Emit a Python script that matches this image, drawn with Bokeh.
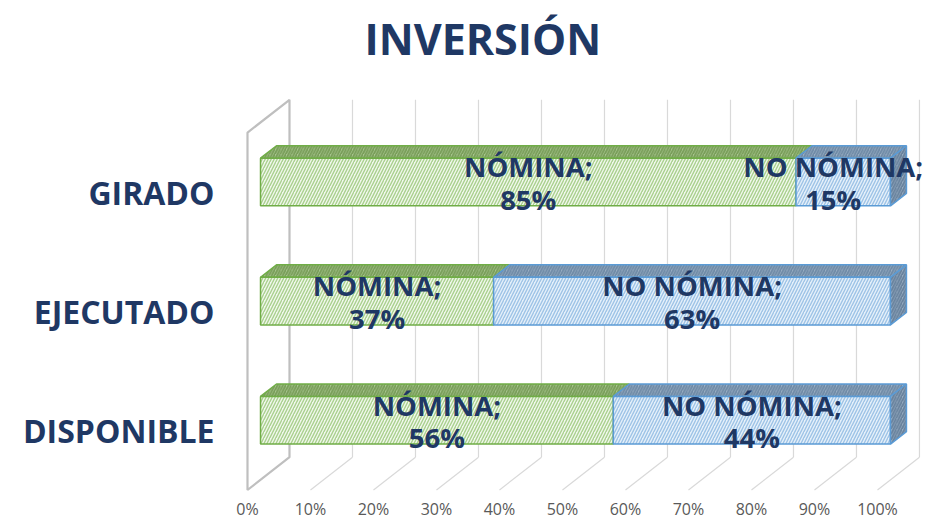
from bokeh.plotting import figure
from bokeh.models import Range1d, FixedTicker, Title
from bokeh.embed import file_html
from bokeh.resources import INLINE
from bokeh.core.properties import value

# ---- data ----
categories = ["DISPONIBLE", "EJECUTADO", "GIRADO"]
nomina = [56, 37, 85]
no_nomina = [44, 63, 15]
series_names = ["NÓMINA", "NO NÓMINA"]
x_ticks = [0, 10, 20, 30, 40, 50, 60, 70, 80, 90, 100]
x_tick_labels = ["0%", "10%", "20%", "30%", "40%", "50%", "60%", "70%", "80%", "90%", "100%"]
title_text = "INVERSIÓN"

# ---- 3D look parameters (style) ----
DEPTH_X = 6.667   # full depth shift, in % units
DEPTH_Y = 0.275   # full depth shift, in category units
D1, D2 = 0.31, 0.69  # bar depth span
HALF = 0.2        # half bar height (category units)
NAVY = "#1F3864"
FONT = "Open Sans"


def proj(x, v, d):
    return x + d * DEPTH_X, v + d * DEPTH_Y


p = figure(width=928, height=522, output_backend="svg", toolbar_location=None,
           x_range=Range1d(-3.333, 108.1), y_range=Range1d(-0.521, 2.996),
           min_border_left=226, min_border_right=0, min_border_top=72, min_border_bottom=28,
           outline_line_color=None, background_fill_color="white", border_fill_color="white")
p.xgrid.visible = False
p.ygrid.visible = False

p.add_layout(Title(text=title_text, align="left", offset=138, text_font=FONT, text_font_size="43px",
                   text_font_style="bold", text_color=NAVY, standoff=12), "above")

# ---- walls and gridlines ----
n = len(categories)
vlo, vhi = -0.5, n - 0.5
gx, gy = [], []
for tk in x_ticks[1:]:
    a = proj(tk, vlo, 1); b = proj(tk, vhi, 1)
    gx.append([a[0], b[0]]); gy.append([a[1], b[1]])
p.multi_line(gx, gy, line_color="#D9D9D9", line_width=1.2)
fx, fy = [], []
for tk in x_ticks[1:]:
    a = proj(tk, vlo, 0); b = proj(tk, vlo, 1)
    fx.append([a[0], b[0]]); fy.append([a[1], b[1]])
p.multi_line(fx, fy, line_color="#D9D9D9", line_width=1.2)
wall = [proj(0, vlo, 0), proj(0, vhi, 0), proj(0, vhi, 1), proj(0, vlo, 1)]
p.patch([w[0] for w in wall] + [wall[0][0]], [w[1] for w in wall] + [wall[0][1]],
        fill_color=None, line_color="#BFBFBF", line_width=2.2)

# ---- bars ----
styles = [
    dict(front="#F1F8EC", front_h="#A9D08E", top="#A8C690", top_h="#789D58", line="#70AD47"),
    dict(front="#E6F0FA", front_h="#9DC3E6", top="#9BAFC4", top_h="#6E8AA6", line="#5B9BD5"),
]
for i, cat in enumerate(categories):
    vals = [nomina[i], no_nomina[i]]
    start = 0
    for s_i, val in enumerate(vals):
        end = start + val
        st = styles[s_i]
        fr = [proj(start, i - HALF, D1), proj(end, i - HALF, D1), proj(end, i + HALF, D1), proj(start, i + HALF, D1)]
        tp = [proj(start, i + HALF, D1), proj(end, i + HALF, D1), proj(end, i + HALF, D2), proj(start, i + HALF, D2)]
        p.patch([q[0] for q in tp], [q[1] for q in tp], fill_color=st["top"], line_color=st["line"],
                line_width=1.5, hatch_pattern="/", hatch_color=st["top_h"], hatch_scale=5.5, hatch_weight=1.8)
        p.patch([q[0] for q in fr], [q[1] for q in fr], fill_color=st["front"], line_color=st["line"],
                line_width=1.5, hatch_pattern="/", hatch_color=st["front_h"], hatch_scale=6, hatch_weight=1.4)
        if s_i == len(vals) - 1:
            rs = [proj(end, i - HALF, D1), proj(end, i + HALF, D1), proj(end, i + HALF, D2), proj(end, i - HALF, D2)]
            p.patch([q[0] for q in rs], [q[1] for q in rs], fill_color="#98ACC1", line_color=st["line"],
                    line_width=1.5, hatch_pattern="/", hatch_color="#67819C", hatch_scale=5.5, hatch_weight=1.8)
        mid = (start + end) / 2
        cx, cy = proj(mid, i, D1)
        xo = -10 if mid > 90 else 0   # keep the label inside the picture
        p.text([cx], [cy + 0.128], text=[series_names[s_i] + ";"], text_align="center", x_offset=xo,
               text_baseline="alphabetic", text_font=value(FONT), text_font_style="bold",
               text_font_size="27.5px", text_color=NAVY)
        p.text([cx], [cy - 0.147], text=[f"{val}%"], text_align="center", x_offset=xo,
               text_baseline="alphabetic", text_font=value(FONT), text_font_style="bold",
               text_font_size="27.5px", text_color=NAVY)
        start = end

# ---- axes ----
p.yaxis.ticker = FixedTicker(ticks=list(range(n)))
p.yaxis.major_label_overrides = {i: c for i, c in enumerate(categories)}
p.yaxis.major_label_text_font = FONT
p.yaxis.major_label_text_font_style = "bold"
p.yaxis.major_label_text_font_size = "32px"
p.yaxis.major_label_text_color = NAVY
p.yaxis.major_label_standoff = 12
p.yaxis.axis_line_color = None
p.yaxis.major_tick_line_color = None
p.yaxis.minor_tick_line_color = None

p.xaxis.ticker = FixedTicker(ticks=x_ticks)
p.xaxis.major_label_overrides = {tk: lb for tk, lb in zip(x_ticks, x_tick_labels)}
p.xaxis.major_label_text_font = FONT
p.xaxis.major_label_text_font_size = "16px"
p.xaxis.major_label_text_color = "#595959"
p.xaxis.major_label_standoff = 5
p.xaxis.axis_line_color = None
p.xaxis.major_tick_line_color = None
p.xaxis.minor_tick_line_color = None
p.xaxis.major_tick_out = 0
p.xaxis.major_tick_in = 0
p.yaxis.major_tick_out = 0
p.yaxis.major_tick_in = 0

open("out.html", "w").write(file_html(p, INLINE))
